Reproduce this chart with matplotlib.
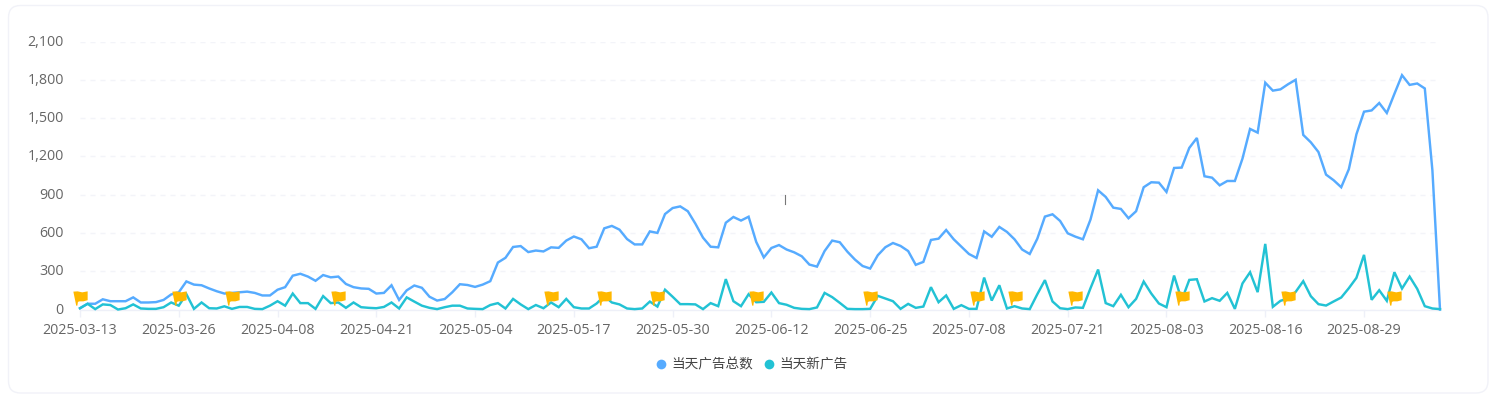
import matplotlib
matplotlib.use("Agg")
import matplotlib.pyplot as plt
import numpy as np
import pandas as pd
from matplotlib.path import Path
from matplotlib.patches import FancyBboxPatch
from matplotlib.lines import Line2D
from matplotlib.transforms import ScaledTranslation

plt.rcParams['font.family'] = ['Noto Sans CJK SC', 'DejaVu Sans']

start_date = "2025-03-13"
series_total_name = "当天广告总数"
series_new_name = "当天新广告"

total_ads = [
    10,45,45,80,65,65,65,95,55,55,58,75,118,135,220,195,190,165,143,125,
    130,135,140,130,110,110,155,175,265,280,258,225,270,252,258,200,175,165,162,125,
    130,190,75,150,188,170,100,70,82,135,198,192,177,195,222,368,405,490,497,450,
    462,455,487,483,540,572,550,480,492,636,655,626,552,510,510,612,600,748,795,808,
    770,672,563,492,487,680,725,697,727,530,408,482,505,470,448,417,352,336,458,540,
    527,453,391,341,321,425,488,521,498,458,350,373,545,555,623,550,492,435,404,612,
    570,647,608,550,470,435,555,728,746,694,597,571,550,705,934,882,798,788,715,770,
    958,997,994,921,1109,1112,1266,1344,1044,1033,973,1007,1007,1182,1415,1386,1777,1715,1725,1765,
    1800,1368,1310,1234,1057,1013,958,1099,1373,1550,1560,1618,1540,1690,1836,1760,1771,1732,1090,0,
]
new_ads = [
    10,45,3,40,35,0,10,40,8,5,5,18,55,30,120,5,55,10,8,25,
    5,20,20,5,3,30,65,30,125,50,50,5,105,50,55,13,55,18,13,10,
    20,55,8,95,62,30,13,3,18,30,30,8,5,3,35,50,8,83,40,3,
    35,10,55,18,83,18,8,8,47,105,55,40,8,3,8,62,23,155,100,42,
    42,40,3,50,26,238,65,26,120,57,60,133,50,37,13,5,3,16,130,97,
    52,5,3,3,5,107,86,65,5,44,13,23,175,57,110,5,34,5,5,250,
    70,190,8,26,8,3,120,230,63,10,3,16,13,167,313,50,26,115,18,83,
    219,125,47,18,266,73,232,237,63,89,68,130,5,204,292,136,514,21,68,86,
    138,222,104,42,31,63,94,167,248,428,76,151,68,292,164,258,162,26,8,3,
]
flag_indices = [0,13,20,34,62,69,76,89,104,118,123,131,145,159,173]
flag_level = 90
y_ticks = [0,300,600,900,1200,1500,1800,2100]
x_tick_step = 13

dates = pd.date_range(start_date, periods=len(total_ads)).strftime("%Y-%m-%d").tolist()
xs = np.arange(len(dates))

W, H = 1496, 396
fig = plt.figure(figsize=(W/100, H/100), dpi=100, facecolor="white")

card = FancyBboxPatch((8.5/W, 1-393/H), (1488-8.5)/W, (393-5.5)/H,
                      boxstyle="round,pad=0,rounding_size=0.008",
                      transform=fig.transFigure, facecolor="white",
                      edgecolor="#f1f2f8", linewidth=1, mutation_aspect=W/H, zorder=-5)
fig.add_artist(card)

L, R, T, B = 80, 1440, 41.5, 309.5
ax = fig.add_axes([L/W, 1-B/H, (R-L)/W, (B-T)/H])
ax.patch.set_alpha(0)
ax.set_xlim(0, len(dates)-1)
ax.set_ylim(0, 2100)

for s in ["top", "right", "left"]:
    ax.spines[s].set_visible(False)
ax.spines["bottom"].set_color("#eef0f8")
ax.spines["bottom"].set_linewidth(1)

ax.set_yticks(y_ticks)
ax.set_yticklabels([f"{v:,}" for v in y_ticks], family="Open Sans")
ax.set_xticks(xs[::x_tick_step])
ax.set_xticklabels(dates[::x_tick_step], family="Open Sans")
ax.tick_params(axis="y", length=0, pad=11.7, labelsize=10.3, labelcolor="#666666")
ax.tick_params(axis="x", length=5, width=1, color="#eef0f8", pad=5, labelsize=10.3, labelcolor="#666666")
up = ScaledTranslation(0, 1.5/100, fig.dpi_scale_trans)
for t in ax.get_yticklabels():
    t.set_transform(t.get_transform() + up)
ax.grid(axis="y", color="#f3f4f9", linewidth=1, linestyle=(0, (3.6, 3.6)))
ax.set_axisbelow(True)

blue, teal = "#56abff", "#22c2d4"
ax.plot(xs, total_ads, color=blue, lw=1.75, clip_on=False, zorder=3, solid_joinstyle="miter")
ax.plot(xs, new_ads, color=teal, lw=1.75, clip_on=False, zorder=3, solid_joinstyle="miter")

flag = Path([(-0.5,0.48),(-0.2,0.5),(0.12,0.43),(0.5,0.5),(0.5,-0.12),(0.2,-0.2),
             (-0.08,-0.2),(-0.18,-0.24),(-0.22,-0.5),(-0.3,-0.5),(-0.5,0.48)], closed=False)
ax.scatter(xs[flag_indices], [flag_level]*len(flag_indices), marker=flag, s=106,
           color="#ffb800", linewidths=0, zorder=5, clip_on=False)

handles = [Line2D([], [], ls="", marker="o", ms=7, mfc=blue, mec="none", label=series_total_name),
           Line2D([], [], ls="", marker="o", ms=7, mfc=teal, mec="none", label=series_new_name)]
fig.legend(handles=handles, loc="center", bbox_to_anchor=(749.5/W, 1-364.5/H), ncol=2, frameon=False,
           fontsize=9.8, labelcolor="#444444", handletextpad=0.05, columnspacing=0.45, handlelength=1.4)

fig.add_artist(Line2D([784.5/W, 784.5/W], [1-195/H, 1-204/H], color="#777777", lw=0.8))

fig.savefig("out.png", dpi=100, facecolor="white")
